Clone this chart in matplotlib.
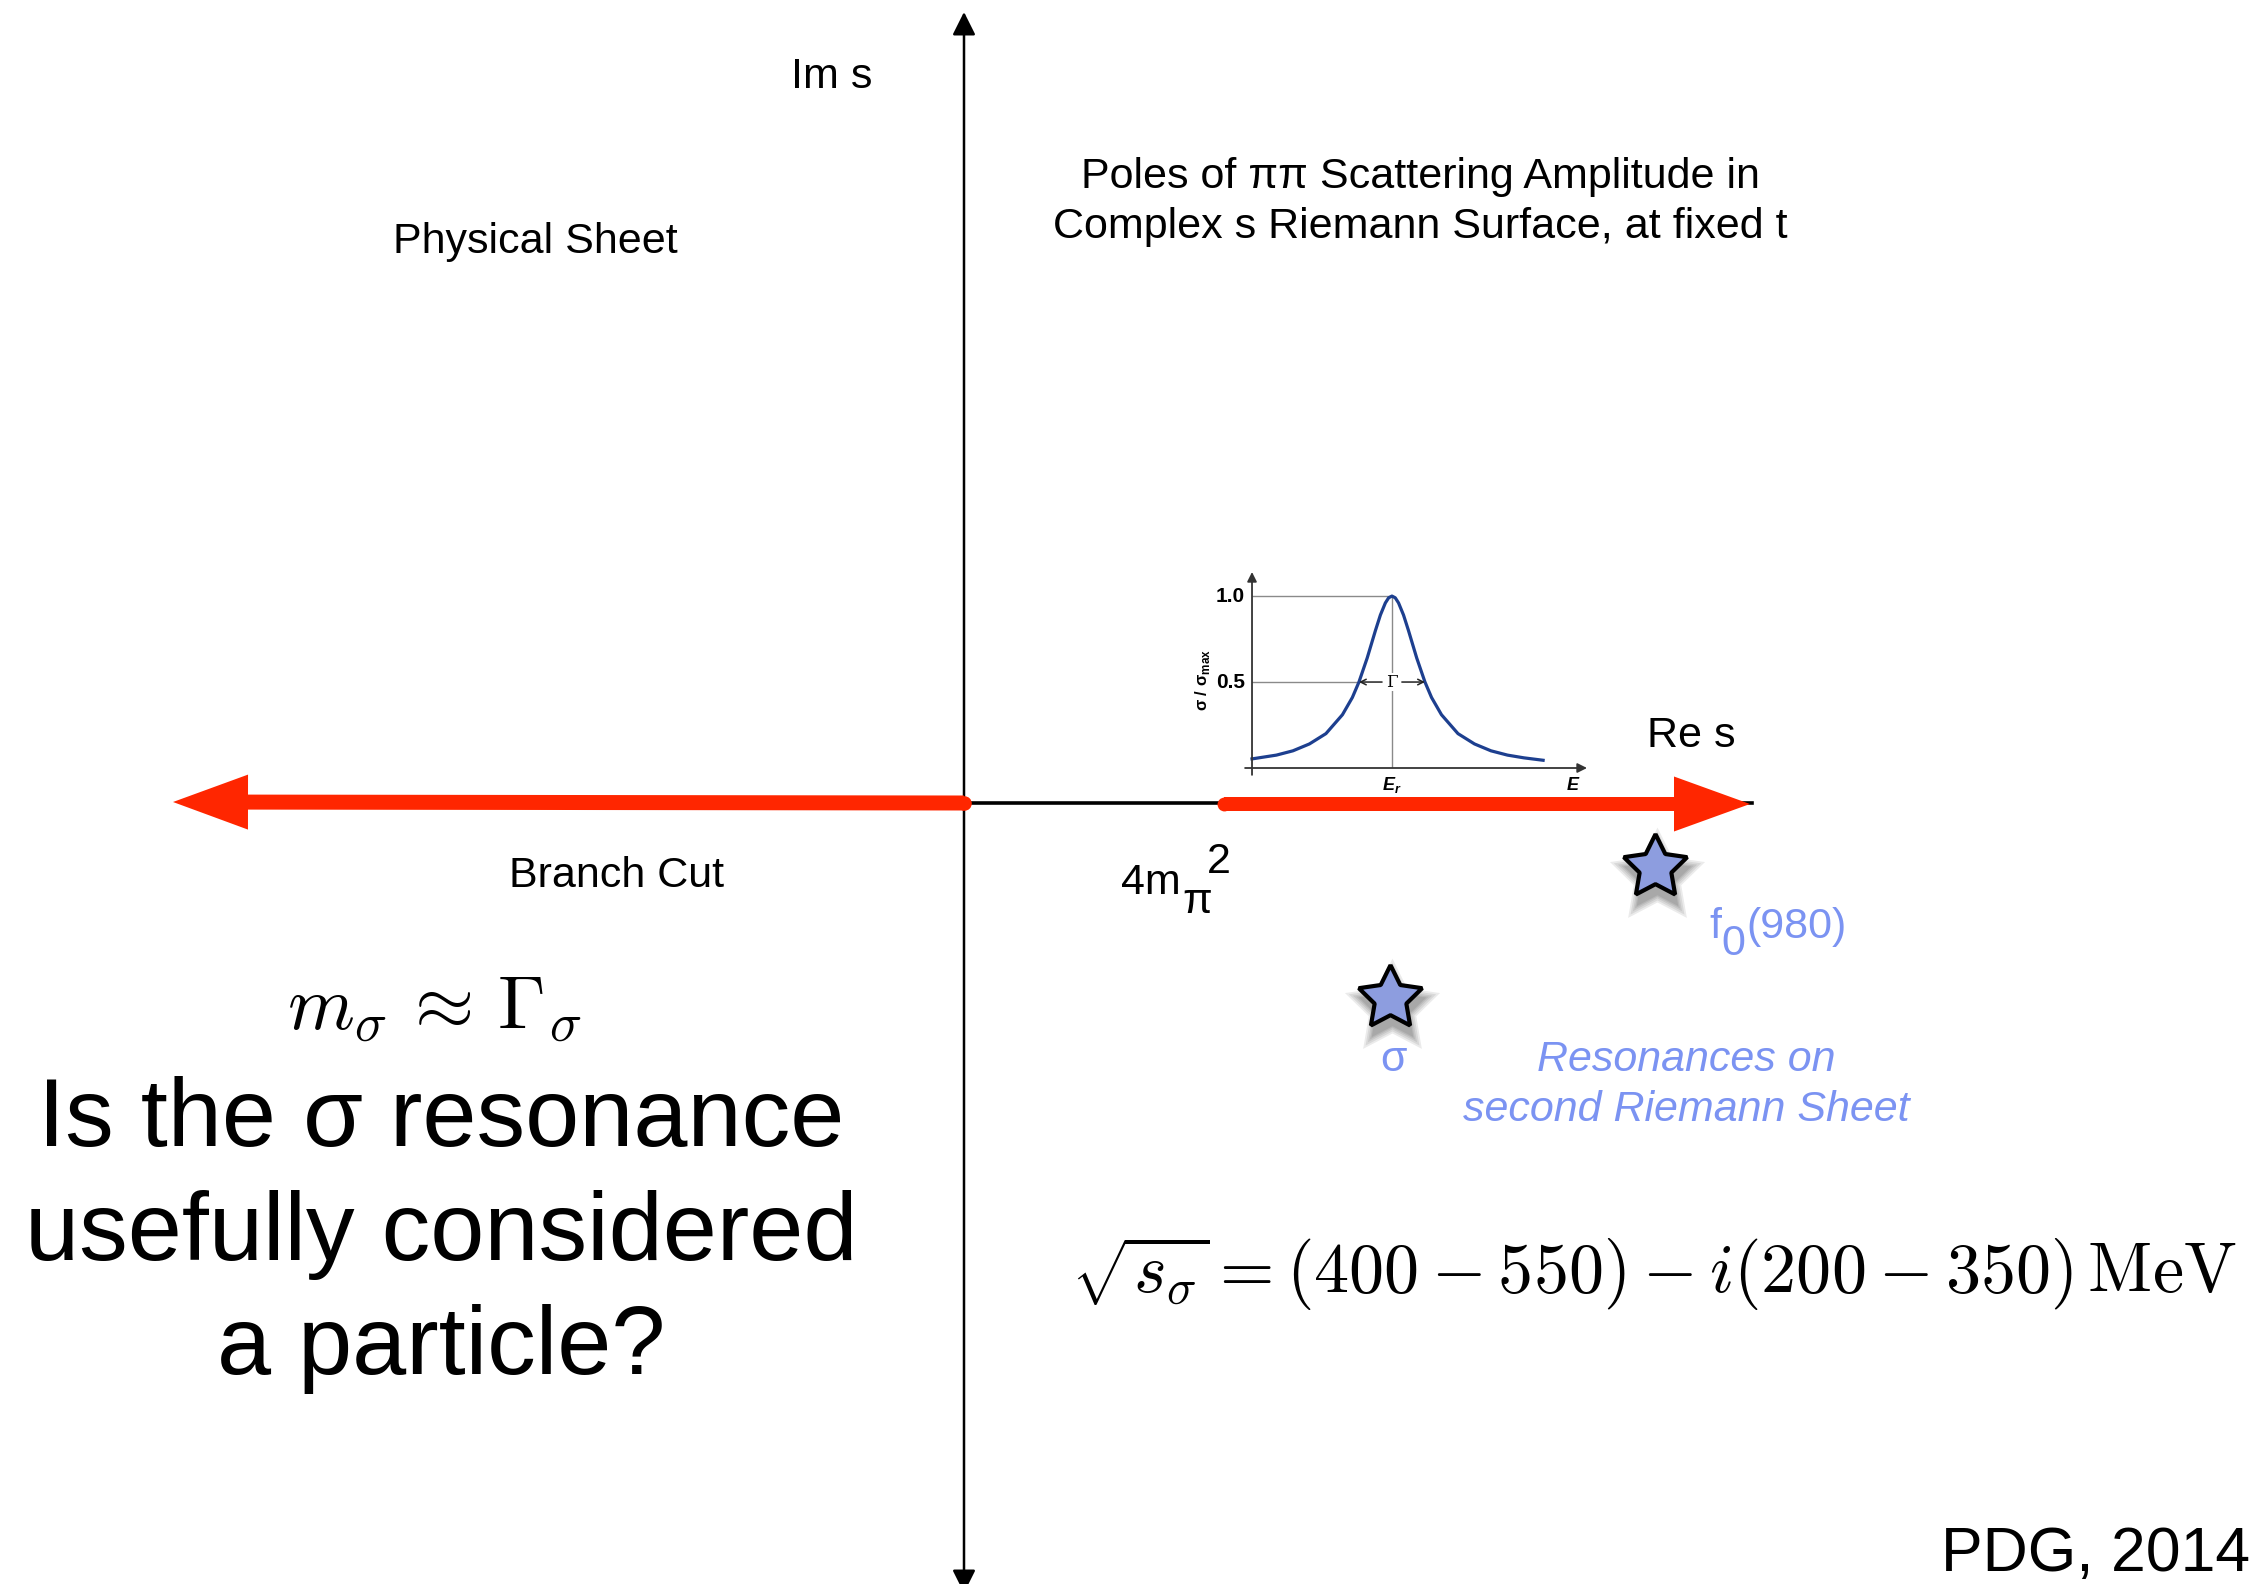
import numpy as np
import matplotlib
matplotlib.use("Agg")
from matplotlib import pyplot as plt
from matplotlib.patches import FancyArrow

plt.rcParams['font.family'] = ['Liberation Sans', 'DejaVu Sans']

# complex s-plane (1 unit = 100 px on the slide)
threshold = 2.60              # 4 m_pi^2 on the real axis
cut_left_end = -7.91
cut_right_end = 7.86
pole_re = [4.26, 6.91]        # sigma, f0(980)
pole_im = [-1.95, -0.64]
pole_names = ['σ', 'f0(980)']

# inset: resonance line shape, E in units of Gamma/2 from E_r
inset_E = [-4.24, -3.5, -3.0, -2.5, -2.0, -1.5, -1.2, -1.0, -0.75, -0.5, -0.35, -0.2, -0.1, 0.0,
           0.1, 0.2, 0.35, 0.5, 0.75, 1.0, 1.2, 1.5, 2.0, 2.5, 3.0, 3.5, 4.0, 4.58]
inset_sigma = [0.053, 0.075, 0.10, 0.14, 0.20, 0.31, 0.41, 0.50, 0.64, 0.80, 0.89, 0.96, 0.99, 1.0,
               0.99, 0.96, 0.89, 0.80, 0.64, 0.50, 0.41, 0.31, 0.20, 0.14, 0.10, 0.075, 0.059, 0.045]

red = '#ff2600'
blue_txt = '#7b93f2'

fig = plt.figure(figsize=(22.66, 15.84), dpi=100)
ax = fig.add_axes([0, 0, 1, 1])
ax.set_xlim(-9.64, 13.02)
ax.set_ylim(-7.81, 8.03)
ax.axis('off')

# axes of the s plane
ax.annotate('', xy=(0, 7.91), xytext=(0, -7.9),
            arrowprops=dict(arrowstyle='<|-|>', color='black', lw=1.8, mutation_scale=35,
                            shrinkA=0, shrinkB=0), zorder=2)
ax.plot([cut_left_end + 0.3, cut_right_end + 0.02], [0, 0], color='black', lw=2.6, zorder=1)

# branch cuts
ax.add_patch(FancyArrow(0, 0.0, cut_left_end, 0.01, width=0.15, head_width=0.55, head_length=0.75,
                        length_includes_head=True, color=red, lw=0, zorder=3))
ax.plot([0], [0.0], 'o', color=red, ms=10.5, mew=0, zorder=3)
ax.add_patch(FancyArrow(threshold, -0.01, cut_right_end - threshold, 0, width=0.14, head_width=0.55,
                        head_length=0.76, length_includes_head=True, color=red, lw=0, zorder=3))
ax.plot([threshold], [-0.01], 'o', color=red, ms=10, mew=0, zorder=3)

# poles with soft shadow
for k, ms in enumerate([72, 66, 60, 55, 51]):
    ax.plot(np.array(pole_re) + 0.02, np.array(pole_im) - 0.10, marker=(5, 1, 0), ls='none',
            ms=ms, color='black', alpha=0.08, mew=0, zorder=4)
ax.plot(pole_re, pole_im, marker=(5, 1, 0), ls='none', ms=48, mfc='#8d9ddf', mec='black',
        mew=3, zorder=5)

# labels
fs = 31
ax.text(-1.32, 7.15, 'Im s', fontsize=fs, ha='center', va='baseline')
ax.text(-4.29, 5.50, 'Physical Sheet', fontsize=fs, ha='center', va='baseline')
ax.text(4.56, 6.15, 'Poles of ππ Scattering Amplitude in', fontsize=fs, ha='center', va='baseline')
ax.text(4.56, 5.65, 'Complex s Riemann Surface, at fixed t', fontsize=fs, ha='center', va='baseline')
ax.text(7.27, 0.56, 'Re s', fontsize=fs, ha='center', va='baseline')
ax.text(-3.47, -0.84, 'Branch Cut', fontsize=fs, ha='center', va='baseline')
ax.text(1.57, -0.91, '4m', fontsize=fs, ha='left', va='baseline')
ax.text(2.18, -1.10, 'π', fontsize=fs, ha='left', va='baseline')
ax.text(2.43, -0.70, '2', fontsize=fs, ha='left', va='baseline')

ax.text(pole_re[0] + 0.04, -2.68, pole_names[0], fontsize=fs, color=blue_txt, ha='center', va='baseline')
ax.text(7.45, -1.35, 'f', fontsize=fs, color=blue_txt, ha='left', va='baseline')
ax.text(7.57, -1.52, '0', fontsize=fs, color=blue_txt, ha='left', va='baseline')
ax.text(7.82, -1.35, '(980)', fontsize=fs, color=blue_txt, ha='left', va='baseline')
ax.text(7.22, -2.68, 'Resonances on', fontsize=fs, color=blue_txt, style='italic',
        ha='center', va='baseline')
ax.text(7.22, -3.18, 'second Riemann Sheet', fontsize=fs, color=blue_txt, style='italic',
        ha='center', va='baseline')

ax.text(-5.30, -2.26, r'$m_\sigma \,\approx\, \Gamma_\sigma$', fontsize=55, math_fontfamily='cm',
        ha='center', va='baseline')
ax.text(-5.23, -3.43, 'Is the σ resonance', fontsize=70, ha='center', va='baseline')
ax.text(-5.23, -4.57, 'usefully considered', fontsize=70, ha='center', va='baseline')
ax.text(-5.23, -5.71, 'a particle?', fontsize=70, ha='center', va='baseline')

ax.text(1.07, -4.90, r'$\sqrt{s_\sigma} = (400 - 550) - i(200 - 350)\,\mathrm{MeV}$', fontsize=50.5,
        math_fontfamily='cm', ha='left', va='baseline')
ax.text(12.86, -7.68, 'PDG, 2014', fontsize=45, ha='right', va='baseline')

# inset: Breit-Wigner line shape
ax_in = fig.add_axes([0.55252, 0.51515, 0.14784, 0.12374])
ax_in.set_xlim(-4.24, 5.91)
ax_in.set_ylim(0, 1.14)
ax_in.axis('off')
grey = '#8a8a8a'
ax_in.plot([-4.24, 0], [1, 1], color=grey, lw=1)
ax_in.plot([-4.24, -1], [0.5, 0.5], color=grey, lw=1)
ax_in.plot([0, 0], [-0.05, 1], color=grey, lw=1)
ax_in.annotate('', xy=(5.91, 0), xytext=(-4.45, 0), annotation_clip=False,
               arrowprops=dict(arrowstyle='-|>', color='#333333', lw=1.3, mutation_scale=14,
                               shrinkA=0, shrinkB=0))
ax_in.annotate('', xy=(-4.24, 1.14), xytext=(-4.24, -0.04), annotation_clip=False,
               arrowprops=dict(arrowstyle='-|>', color='#333333', lw=1.3, mutation_scale=14,
                               shrinkA=0, shrinkB=0))
ax_in.plot(inset_E, inset_sigma, color='#1d3f8f', lw=2.3, clip_on=False)
for sgn in (-1, 1):
    ax_in.annotate('', xy=(sgn * 1.0, 0.5), xytext=(sgn * 0.3, 0.5),
                   arrowprops=dict(arrowstyle='->', color='#222222', lw=1.1, mutation_scale=10,
                                   shrinkA=0, shrinkB=0))
ax_in.text(0, 0.5, 'Γ', fontsize=12, family='DejaVu Serif', ha='center', va='center',
           bbox=dict(fc='white', ec='none', pad=0.5))
ax_in.text(-4.45, 1.0, '1.0', fontsize=15, fontweight='bold', ha='right', va='center')
ax_in.text(-4.45, 0.5, '0.5', fontsize=15, fontweight='bold', ha='right', va='center')
ax_in.text(-5.75, 0.51, r'σ / σ$_{\mathregular{max}}$', fontsize=12, fontweight='bold', rotation=90,
           ha='center', va='center')
ax_in.text(0, -0.10, r'E$_{\mathregular{r}}$', fontsize=13, fontweight='bold', style='italic',
           ha='center', va='center')
ax_in.text(5.48, -0.10, 'E', fontsize=13, fontweight='bold', style='italic', ha='center', va='center')

fig.savefig('out.png', dpi=100)
